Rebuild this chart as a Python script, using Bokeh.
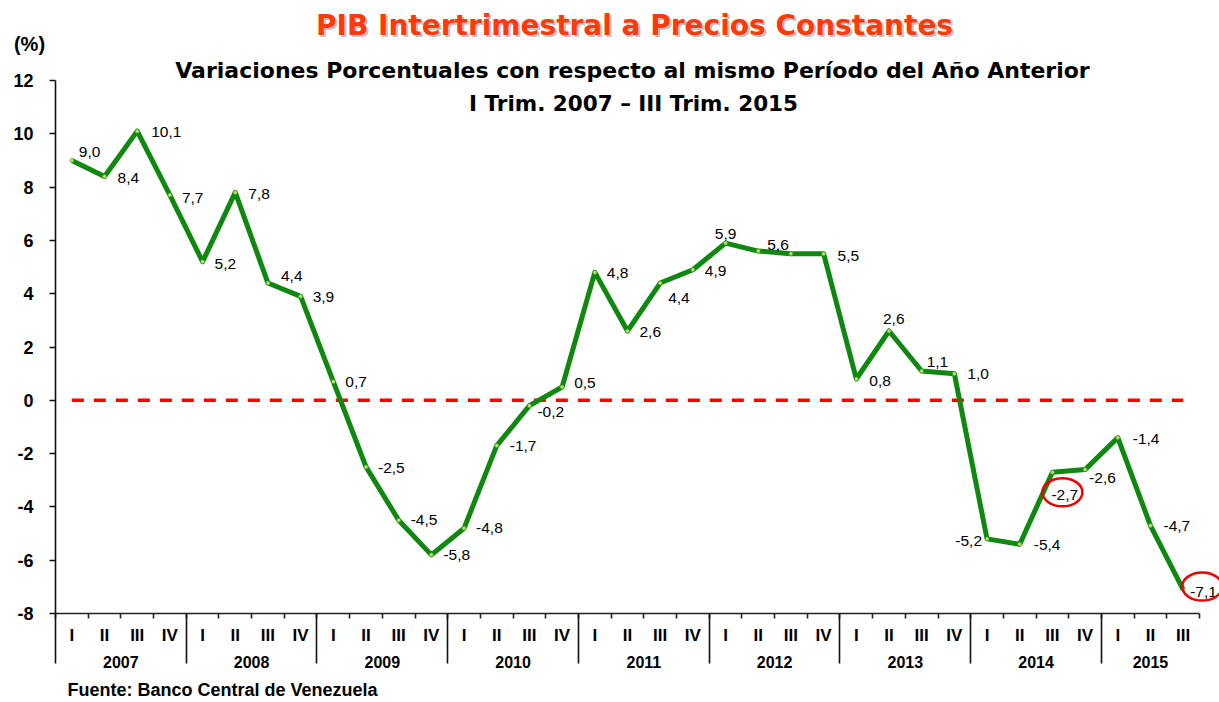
import numpy as np
from bokeh.plotting import figure
from bokeh.models import Range1d, LinearAxis, FixedTicker, Label, ColumnDataSource, Grid
from bokeh.core.properties import value
from bokeh.embed import file_html
from bokeh.resources import INLINE

# ---------------- data ----------------
years = ["2007", "2008", "2009", "2010", "2011", "2012", "2013", "2014", "2015"]
quarters_per_year = [4, 4, 4, 4, 4, 4, 4, 4, 3]
quarter_names = ["I", "II", "III", "IV"]
values = [9.0, 8.4, 10.1, 7.7,
          5.2, 7.8, 4.4, 3.9,
          0.7, -2.5, -4.5, -5.8,
          -4.8, -1.7, -0.2, 0.5,
          4.8, 2.6, 4.4, 4.9,
          5.9, 5.6, 5.5, 5.5,
          0.8, 2.6, 1.1, 1.0,
          -5.2, -5.4, -2.7, -2.6,
          -1.4, -4.7, -7.1]
y_ticks = [-8, -6, -4, -2, 0, 2, 4, 6, 8, 10, 12]
y_tick_labels = ["-8", "-6", "-4", "-2", "0", "2", "4", "6", "8", "10", "12"]
circled = [30, 34]          # values highlighted with a red ellipse
unlabeled = [22]            # value without a data label in the original

title = "PIB Intertrimestral a Precios Constantes"
subtitle1 = "Variaciones Porcentuales con respecto al mismo Período del Año Anterior"
subtitle2 = "I Trim. 2007 \u2013 III Trim. 2015"
unit_label = "(%)"
source_note = "Fuente: Banco Central de Venezuela"

# ---------------- label placement (style, screen px offsets) ----------------
# (dx, dy, align) ; dy positive = down
placement = [
    (7, -8, "left"), (13, 2, "left"), (14, 1, "left"), (12, 3, "left"),
    (12, 2, "left"), (13, 2, "left"), (13, -7, "left"), (12, 1, "left"),
    (12, 0, "left"), (12, 1, "left"), (12, 0, "left"), (12, 0, "left"),
    (12, 0, "left"), (13, 0, "left"), (8, 6, "left"), (12, -4, "left"),
    (12, 1, "left"), (12, 1, "left"), (8, 15, "left"), (12, 1, "left"),
    (0, -9, "center"), (9, -6, "left"), (0, 0, "left"), (14, 2, "left"),
    (13, 2, "left"), (-6, -12, "left"), (5, -9, "left"), (13, 0, "left"),
    (-5, 2, "right"), (14, 1, "left"), (-1, 23, "left"), (4, 8, "left"),
    (15, 1, "left"), (13, 0, "left"), (7, 2, "left"),
]
ellipse_offset = {30: (10, 20), 34: (19, -3)}

FONT = "Liberation Sans"
TFONT = "DejaVu Sans"

# ---------------- geometry (canvas px) ----------------
W, H = 1219, 702
n = len(values)
AX_LEFT, AX_TOP = 55, 80          # canvas position of x=0 and y=12
X_PER = 1144.0 / n                # px per quarter
Y_PER = 533.0 / 20.0              # px per percentage point

def cx(px):
    return (px - AX_LEFT) / X_PER

def cy(py):
    return 12 - (py - AX_TOP) / Y_PER

p = figure(width=W, height=H, output_backend="svg", toolbar_location=None,
           x_range=Range1d(cx(0), cx(W)), y_range=Range1d(cy(H), cy(0)),
           min_border_left=0, min_border_right=0, min_border_top=0, min_border_bottom=0,
           x_axis_location=None, y_axis_location=None)
p.outline_line_color = None
for r in list(p.center):
    if isinstance(r, Grid):
        r.visible = False
p.background_fill_color = "white"
p.border_fill_color = "white"

# ---------------- axes ----------------
yaxis = LinearAxis(fixed_location=0, bounds=(y_ticks[0], y_ticks[-1]),
                   ticker=FixedTicker(ticks=y_ticks, minor_ticks=[]),
                   major_label_overrides={t: l for t, l in zip(y_ticks, y_tick_labels)},
                   major_tick_in=0, major_tick_out=6, minor_tick_in=0, minor_tick_out=0,
                   major_label_standoff=16,
                   axis_line_color="#111111", axis_line_width=1.6,
                   major_tick_line_color="#111111", major_tick_line_width=1.6,
                   major_label_text_font=FONT, major_label_text_font_style="bold",
                   major_label_text_font_size="18px", major_label_text_color="black")
p.add_layout(yaxis, "left")

xs = [i + 0.5 for i in range(n)]
quarters = []
for c in quarters_per_year:
    quarters += quarter_names[:c]
boundaries = list(range(n + 1))
xaxis_q = LinearAxis(fixed_location=y_ticks[0], bounds=(0, n),
                     ticker=FixedTicker(ticks=xs, minor_ticks=boundaries),
                     major_label_overrides={x: q for x, q in zip(xs, quarters)},
                     major_tick_in=0, major_tick_out=0, minor_tick_in=0, minor_tick_out=5,
                     major_label_standoff=7,
                     axis_line_color="#222222", axis_line_width=1.6,
                     minor_tick_line_color="#222222", minor_tick_line_width=1.6,
                     major_label_text_font=FONT, major_label_text_font_style="bold",
                     major_label_text_font_size="17px", major_label_text_color="black")
p.add_layout(xaxis_q, "below")

starts = list(np.cumsum([0] + quarters_per_year[:-1]))
year_centers = [float(s + c / 2.0) for s, c in zip(starts, quarters_per_year)]
year_bounds = [float(s) for s in starts]

xaxis_sep = LinearAxis(fixed_location=y_ticks[0],
                       ticker=FixedTicker(ticks=[], minor_ticks=year_bounds),
                       axis_line_color=None, major_tick_line_color=None,
                       major_tick_in=0, major_tick_out=0,
                       minor_tick_in=0, minor_tick_out=50,
                       minor_tick_line_color="#111111", minor_tick_line_width=1.6,
                       major_label_text_font_size="0px")
p.add_layout(xaxis_sep, "below")

xaxis_y = LinearAxis(fixed_location=cy(655),
                     ticker=FixedTicker(ticks=year_centers, minor_ticks=[]),
                     major_label_overrides={x: y for x, y in zip(year_centers, years)},
                     axis_line_color=None, major_tick_line_color=None,
                     major_tick_in=0, major_tick_out=0, minor_tick_in=0, minor_tick_out=0,
                     major_label_standoff=0,
                     major_label_text_font=FONT, major_label_text_font_style="bold",
                     major_label_text_font_size="16px", major_label_text_color="black")
p.add_layout(xaxis_y, "below")

# ---------------- zero reference line ----------------
p.line(x=[xs[0], xs[-1]], y=[0, 0], line_color="#FF0000", line_width=3.5, line_dash="12 10")

# ---------------- series ----------------
p.line(x=xs, y=values, line_color="#0F880F", line_width=5, line_join="round")
p.scatter(x=xs, y=values, size=4, fill_color="#C8E060", line_color="#2E9A3A", line_width=0.6)

# ---------------- data labels ----------------
lab_x, lab_y, lab_t, lab_dx, lab_dy, lab_al = [], [], [], [], [], []
for i, v in enumerate(values):
    if i in unlabeled:
        continue
    dx, dy, al = placement[i]
    lab_x.append(xs[i]); lab_y.append(v)
    lab_t.append(f"{v:.1f}".replace(".", ","))
    lab_dx.append(dx); lab_dy.append(dy); lab_al.append(al)
src = ColumnDataSource(dict(x=lab_x, y=lab_y, t=lab_t, dx=lab_dx, dy=lab_dy, al=lab_al))
p.text(x="x", y="y", text="t", x_offset="dx", y_offset="dy", text_align="al",
       text_baseline="middle", text_font=value(FONT), text_font_size="15.5px",
       text_color="black", source=src)

# ---------------- circled labels ----------------
ex = [xs[i] + ellipse_offset[i][0] / X_PER for i in circled]
ey = [values[i] - ellipse_offset[i][1] / Y_PER for i in circled]
p.ellipse(x=ex, y=ey, width=40, height=28, width_units="screen", height_units="screen",
          fill_color=None, line_color="#EE0000", line_width=2.5)

# ---------------- titles and notes ----------------
p.add_layout(Label(x=cx(634), y=cy(25), text=title, x_offset=2, y_offset=-2,
                   text_align="center", text_baseline="middle", text_font=TFONT,
                   text_font_style="bold", text_font_size="28px", text_color="#909090",
                   text_alpha=0.55))
p.add_layout(Label(x=cx(634), y=cy(25), text=title,
                   text_align="center", text_baseline="middle", text_font=TFONT,
                   text_font_style="bold", text_font_size="28px", text_color="#FF3A0A"))
p.add_layout(Label(x=cx(632), y=cy(70), text=subtitle1,
                   text_align="center", text_baseline="middle", text_font=TFONT,
                   text_font_style="bold", text_font_size="22px", text_color="black"))
p.add_layout(Label(x=cx(633), y=cy(103), text=subtitle2,
                   text_align="center", text_baseline="middle", text_font=TFONT,
                   text_font_style="bold", text_font_size="21.5px", text_color="black"))
p.add_layout(Label(x=cx(29), y=cy(43), text=unit_label,
                   text_align="center", text_baseline="middle", text_font=FONT,
                   text_font_style="bold", text_font_size="20px", text_color="black"))
p.add_layout(Label(x=cx(67), y=cy(689), text=source_note,
                   text_align="left", text_baseline="middle", text_font=FONT,
                   text_font_style="bold", text_font_size="18px", text_color="black"))

open("out.html", "w").write(file_html(p, INLINE))
